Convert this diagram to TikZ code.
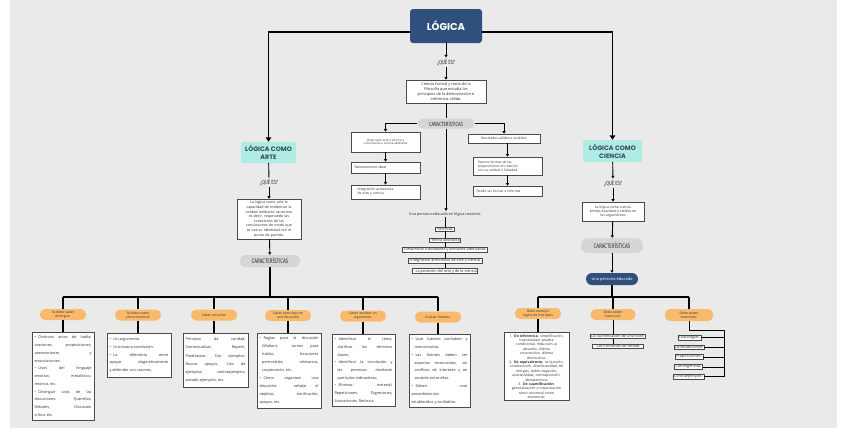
\documentclass[tikz,border=0pt]{standalone}
\usepackage{fontspec}
\setmainfont{Open Sans}
\newfontfamily\pop{Poppins}
\newfontfamily\cond[FakeStretch=0.72]{Fira Sans}
\usetikzlibrary{arrows.meta}
\definecolor{bgc}{HTML}{EAEAEA}
\definecolor{navy}{HTML}{2F4F7C}
\definecolor{tealc}{HTML}{AFEDE4}
\definecolor{orng}{HTML}{F9BB6B}
\definecolor{pillg}{HTML}{D6D6D6}
\definecolor{boxc}{HTML}{4A4A4A}
\definecolor{ink}{HTML}{2E2E2E}
\definecolor{headc}{HTML}{34495C}
\newcommand\bpt[1][0pt]{\par\hangindent=#1\relax\hangafter=1\relax\noindent\hbox to 4pt{\textbullet\hfil}\ignorespaces}
\newcommand\bptf[1][0pt]{\hangindent=#1\relax\hangafter=1\relax\leavevmode\hbox to 4pt{\textbullet\hfil}\ignorespaces}
\newcommand\jfy{\hyphenpenalty=10000\relax\tolerance=10000\relax\hbadness=10000\relax}
\begin{document}
\begin{tikzpicture}[x=1pt,y=-1pt,
  box/.style={draw=boxc, line width=0.75pt, fill=white, inner sep=2pt, text=ink},
  sbox/.style={draw=boxc, line width=0.5pt, fill=white, inner xsep=1pt, inner ysep=0.7pt, text=ink, font=\fontsize{3.8}{4.5}\selectfont},
  gpill/.style={fill=pillg, rounded corners=5pt, text=ink, font=\cond\fontsize{6}{7}\selectfont, inner sep=0pt},
  opill/.style={fill=orng, rounded corners=5pt, minimum width=46pt, minimum height=11pt, inner sep=0pt, align=center, text=ink, font=\fontsize{3.4}{3.9}\selectfont},
  tbox/.style={fill=tealc, rounded corners=2pt, inner sep=0pt, align=center, text=headc, font=\pop\bfseries\fontsize{6.4}{8}\selectfont},
  qes/.style={inner sep=1pt, text=ink, font=\cond\fontsize{6}{6.5}\selectfont},
  bt/.style={box, anchor=north, align=justify, inner xsep=2.5pt, inner ysep=3.5pt},
  main/.style={line width=1.6pt, -{Triangle[width=5.5pt,length=4.5pt]}},
  con/.style={line width=0.9pt},
  arr/.style={con, -{Triangle[width=3pt,length=2.5pt]}},
  bus/.style={line width=1.3pt}
]
\useasboundingbox (0,0) rectangle (848,440);
\fill[white] (0,0) rectangle (848,440);
\fill[bgc] (10,0) rectangle (837,428);

% ---------- top ----------
\node[fill=navy, rounded corners=3pt, minimum width=72pt, minimum height=34pt, text=white, font=\pop\bfseries\fontsize{10}{12}\selectfont] (logica) at (446,26) {LÓGICA};
\node[qes] (q1) at (446,62) {¿QUÉ ES?};
\node[box, align=center, font=\fontsize{3.9}{5}\selectfont, minimum width=80pt, minimum height=23pt, inner sep=1pt] (def) at (446,91.5) {Ciencia formal y rama de la\\Filosofía que estudia los\\principios de la demostración e\\inferencia válida.};
\node[gpill, minimum width=57pt, minimum height=10pt] (car1) at (446,123.5) {CARACTERÍSTICAS};

\node[box, align=center, minimum width=69pt, minimum height=20pt, inner sep=1pt, font=\fontsize{3}{3.7}\selectfont] (v1) at (385.5,142) {Vista como arte o técnica y\\como teoría o ciencia abstracta};
\node[box, text width=62pt, align=left, minimum height=11pt, inner xsep=3.5pt, inner ysep=1pt, font=\fontsize{3.4}{4}\selectfont] (v2) at (385.5,167.5) {Razonamiento ideal};
\node[box, text width=56pt, align=left, minimum height=14pt, inner xsep=6.5pt, inner ysep=1pt, font=\fontsize{3.4}{4}\selectfont] (v3) at (385.5,192) {Integración armoniosa\\de arte y ciencia};

\node[box, align=center, minimum width=72pt, minimum height=9pt, inner sep=1pt, font=\fontsize{3.3}{4}\selectfont] (r1) at (504,138.5) {Resultados válidos o inválidos};
\node[box, text width=59pt, align=left, minimum height=18pt, inner xsep=5pt, inner ysep=1pt, font=\fontsize{3.3}{4}\selectfont] (r2) at (507.5,166) {Expone formas de las\\proposiciones en relación\\con su verdad o falsedad.};
\node[box, text width=62pt, align=left, minimum height=10pt, inner xsep=3.5pt, inner ysep=1pt, font=\fontsize{3.3}{4}\selectfont] (r3) at (507.5,191) {Puede ser formal e informal};

\node[inner sep=1pt, text=ink, font=\fontsize{3.8}{4.5}\selectfont] (nec) at (445,214) {Una persona educada en lógica necesita:};
\node[sbox] (n1) at (445,229) {-Técnicas.};
\node[sbox] (n2) at (445,240) {-Teoría abstracta};
\node[sbox] (n3) at (445,250) {-Desarrollar habilidades y actitudes adecuadas.};
\node[sbox] (n4) at (445,260.5) {-Integración armoniosa de arte y ciencia.};
\node[sbox] (n5) at (445,271) {- La posesión del arte y de la ciencia};

% ---------- left branch ----------
\node[tbox, minimum width=55pt, minimum height=21pt] (arte) at (268.5,152.5) {LÓGICA COMO\\ARTE};
\node[qes] (q2) at (269,182) {¿QUÉ ES?};
\node[box, text width=60pt, align=center, inner sep=2pt, font=\fontsize{3.6}{4.6}\selectfont] (artedef) at (269,219) {La lógica como arte la\\capacidad de evidenciar la\\verdad mediante raciocinio\\es decir, respetando las\\conexiones de las\\conclusiones de modo que\\se vea su identidad con el\\punto de partida.};
\node[gpill, minimum width=60pt, minimum height=12pt, font=\cond\fontsize{6.5}{7}\selectfont] (car2) at (270,261) {CARACTERÍSTICAS};

\coordinate (bl) at (63,297);
\coordinate (br) at (438,297);

\node[opill] (p1) at (63,314.5) {Se debe saber\\distinguir.};
\node[opill] (p2) at (138,315) {Se debe saber\\cómo construir};
\node[opill] (p3) at (214,315) {Saber escuchar};
\node[opill] (p4) at (288,315.5) {Saber participar en\\una discusión};
\node[opill] (p5) at (363,316) {Saber analizar un\\argumento.};
\node[opill] (p6) at (438,317) {Evaluar fuentes.};

\node[bt, text width=57pt, font=\fontsize{3.8}{7.75}\selectfont] (b1) at (63,332) {\jfy\bptf Distintos actos de habla:\linebreak oraciones, proposiciones,\linebreak aseveraciones y\linebreak enunciaciones.\bpt Usos del lenguaje\linebreak emotivo, metafórico,\linebreak retórico, etc.\bpt Distinguir usos de las\linebreak discusiones: Querellas,\linebreak Debates, Discusión\linebreak crítica, etc.};
\node[bt, text width=59pt, inner ysep=4.5pt, font=\fontsize{3.8}{7.8}\selectfont] (b2) at (139,333) {\jfy\bptf Un argumento.\bpt Una buena conclusión.\bpt La diferencia entre\linebreak apoyar dogmáticamente\linebreak y defender con razones.};
\node[bt, text width=60pt, inner ysep=4.5pt, font=\fontsize{3.8}{8.2}\selectfont] (b3) at (215.5,333) {\jfy Principio de caridad,\linebreak Contextualizar, Repetir,\linebreak Parafrasear, Dar ejemplos,\linebreak Buscar apoyos, Uso de\linebreak ejemplos, contraejemplos,\linebreak pseudo-ejemplos, etc.};
\node[bt, text width=59pt, font=\fontsize{3.8}{8}\selectfont] (b4) at (289,333) {\jfy\bptf[2.7pt] Reglas para la discusión\linebreak (Walton): turnos para\linebreak hablar, locuciones\linebreak permisibles, relevancia,\linebreak cooperación, etc.\bpt[2.7pt] Cómo organizar una\linebreak discusión: señalar el\linebreak objetivo, clarificación,\linebreak apoyos, etc.};
\node[bt, text width=58pt, font=\fontsize{3.8}{7.7}\selectfont] (b5) at (363.5,334) {\jfy\bptf[3pt] Identificar el tema,\linebreak clarificar los términos\linebreak claves;\bpt[3pt] Identificar la conclusión y\linebreak las premisas mediante\linebreak partículas indicadoras;\bpt[3pt] Eliminar material:\linebreak Repeticiones, Digresiones,\linebreak Ilustraciones, Retórica.};
\node[bt, text width=56pt, font=\fontsize{3.8}{7.8}\selectfont] (b6) at (439.5,334) {\jfy\bptf[3pt] Usar fuentes confiables y\linebreak mencionarlas.\bpt[3pt] Las fuentes deben ser\linebreak expertas reconocidas, sin\linebreak conflicto de intereses y en\linebreak acuerdo entre ellas.\bpt[3pt] Deben usar\linebreak procedimientos\linebreak establecidos y confiables.};

% ---------- right branch ----------
\node[tbox, minimum width=59pt, minimum height=22pt] (ciencia) at (612.5,151) {LÓGICA COMO\\CIENCIA};
\node[qes] (q3) at (613,183) {¿QUÉ ES?};
\node[box, align=center, minimum width=62pt, minimum height=19pt, inner sep=1pt, font=\fontsize{3.5}{4.4}\selectfont] (cdef) at (613,211.5) {La lógica como ciencia\\brinda exactitud y validez en\\los argumentos};
\node[gpill, minimum width=62pt, minimum height=15pt, rounded corners=7pt, font=\cond\fontsize{6.5}{7}\selectfont] (car3) at (612,245.5) {CARACTERÍSTICAS};
\node[fill=navy, rounded corners=6pt, minimum width=52pt, minimum height=12pt, inner sep=0pt, text=white, font=\fontsize{4}{5}\selectfont] (edu) at (612,279) {Una persona educada};

\coordinate (bl2) at (538,297);
\coordinate (br2) at (689,297);

\node[opill] (p7) at (538,313.5) {Debe manejar\\reglas de tres tipos};
\node[opill, minimum width=45pt] (p8) at (613,314.5) {Debe poder\\reconocer:};
\node[opill, minimum width=48pt, minimum height=12pt] (p9) at (689,315) {Debe poder\\reconocer:};

\node[box, anchor=north, text width=61pt, align=center, inner sep=2pt, font=\fontsize{3.5}{4.4}\selectfont] (b7) at (536.5,332) {1. \textbf{De inferencia:} simplificación,\\transitividad, prueba\\condicional, reducción al\\absurdo, dilema\\constructivo, dilema\\destructivo;\\2. \textbf{De equivalencia:} conjunción,\\conmutación, distributividad, de\\morgan, doble negación,\\asociatividad, contraposición,\\idempotencia;\\3. \textbf{De cuantificación:}\\generalización e instanciación\\tanto universal como\\existencial.};

\node[sbox] (c1) at (617.5,336.5) {La cuantificación de una frase};
\node[sbox, inner xsep=4pt] (c2) at (618,346.5) {Las funciones de verdad};

\node[sbox] (t1) at (689.5,337.5) {Tautologías.};
\node[sbox] (t2) at (689,347) {Contradicciones};
\node[sbox] (t3) at (689,357) {Proposiciones.};
\node[sbox] (t4) at (688.5,367) {Contingencias.};
\node[sbox] (t5) at (688.5,376.5) {Contraejemplos.};
\coordinate (k1) at (724,330);

% ---------- connectors ----------
\draw[main] ([yshift=-6pt]logica.west) -| (arte.north);
\draw[main] ([yshift=-6pt]logica.east) -| (ciencia.north);
\draw[arr] (logica) -- (q1);
\draw[arr] (q1) -- (def);
\draw[con] (def) -- (car1);
\draw[arr] (car1.west) -| (v1.north);
\draw[arr] (car1.east) -| (r1.north);
\draw[arr] (v1) -- (v2);
\draw[arr] (v2) -- (v3);
\draw[arr] (r2.north |- r1.south) -- (r2.north);
\draw[arr] (r2) -- (r3);
\draw[arr] (car1.south) -- (car1.south |- nec.north);
\draw[con] (nec) -- (n1);
\draw[con] (n1) -- (n2);
\draw[con] (n2) -- (n3);
\draw[con] (n3) -- (n4);
\draw[con] (n4) -- (n5);

\draw[con] (arte) -- (q2);
\draw[arr] (q2) -- (artedef);
\draw[arr] (artedef) -- (car2);
\draw[bus] (car2.south) -- (car2.south |- bl);
\draw[bus] (bl) -- (br);
\foreach \p/\b in {p1/b1,p2/b2,p3/b3,p4/b4,p5/b5,p6/b6}{
  \draw[bus] (\p.north |- bl) -- (\p.north);
  \draw[bus] (\p.south) -- (\p.south |- \b.north);
}

\draw[arr] (ciencia) -- (q3);
\draw[arr] (q3) -- (cdef);
\draw[arr] (cdef) -- (car3);
\draw[arr] (car3) -- (edu);
\draw[bus] (edu.south) -- (edu.south |- bl2);
\draw[bus] (bl2) -- (br2);
\foreach \p in {p7,p8,p9}{
  \draw[bus] (\p.north |- bl2) -- (\p.north);
}
\draw[bus] (p7.south) -- (p7.south |- b7.north);
\draw[con] (p8.south) -- (p8.south |- c1.north);
\draw[con] (p8.south |- c1.south) -- (p8.south |- c2.north);
\draw[con] (p9.south) |- (k1) -- (k1 |- t5.east);
\foreach \t in {t1,t2,t3,t4,t5}{
  \draw[con] (\t.east) -- (k1 |- \t.east);
}
\end{tikzpicture}
\end{document}
